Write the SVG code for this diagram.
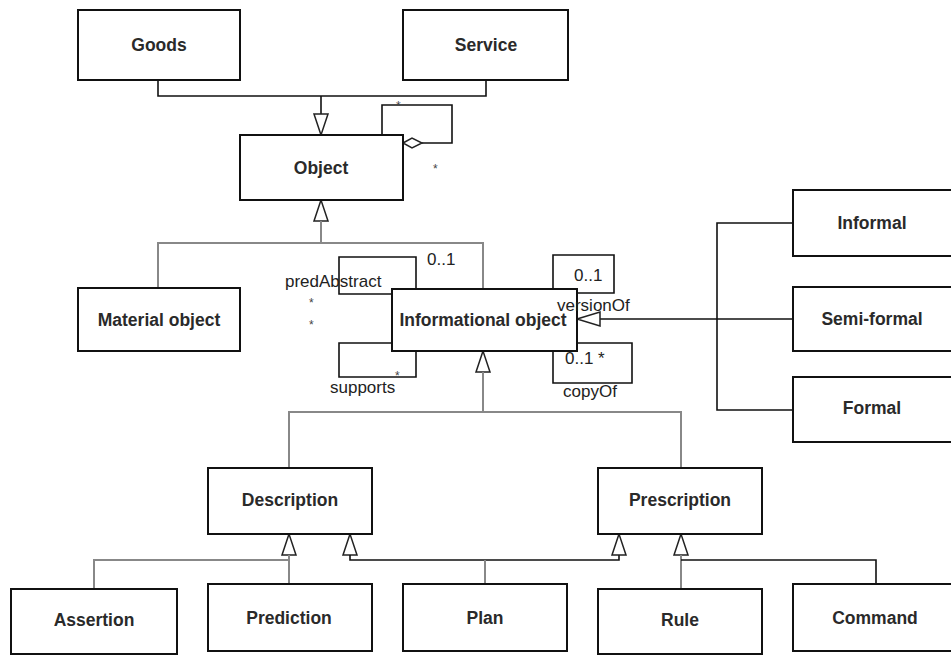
<svg xmlns="http://www.w3.org/2000/svg" width="951" height="656" viewBox="0 0 951 656">
  <style>
    .box { fill: #fff; stroke: #111; stroke-width: 2; }
    .lbl { font-family: "Liberation Sans", Arial, sans-serif; font-size: 17.5px; font-weight: bold; fill: #2a2a2a; text-anchor: middle; dominant-baseline: central; }
    .sm { font-family: "Liberation Sans", Arial, sans-serif; font-size: 17px; fill: #222; }
    .star { font-family: "Liberation Sans", Arial, sans-serif; font-size: 12px; fill: #444; }
    .ln { fill: none; stroke: #111; stroke-width: 1.6; }
    .lg { fill: none; stroke: #888; stroke-width: 2; }
    .tri { fill: #fff; stroke: #222; stroke-width: 1.5; }
  </style>
  <rect width="951" height="656" fill="#fff"/>

  <g id="connectors">
    <!-- Goods / Service to Object -->
    <polyline class="ln" points="158,80 158,96 486,96 486,80"/>
    <line class="ln" x1="321" y1="96" x2="321" y2="114"/>
    <polygon class="tri" points="321,135 314,114 328,114"/>
    <!-- Object self aggregation -->
    <polyline class="ln" points="382,135 382,105 452,105 452,143 422,143"/>
    <polygon class="tri" points="403,143 412,138 422,143 412,148"/>
    <!-- Material / Informational to Object -->
    <polygon class="tri" points="321,200 314,221 328,221"/>
    <line class="lg" x1="321" y1="221" x2="321" y2="243"/>
    <polyline class="lg" points="158,288 158,243 483,243 483,289"/>
    <!-- predAbstract loop -->
    <polyline class="ln" points="392,294 339,294 339,257 416,257 416,289"/>
    <!-- supports loop -->
    <polyline class="ln" points="392,343 339,343 339,377 416,377 416,351"/>
    <!-- versionOf loop -->
    <polyline class="ln" points="553,289 553,255 614,255 614,293 577,293"/>
    <!-- copyOf loop -->
    <polyline class="ln" points="577,343 632,343 632,383 553,383 553,351"/>
    <!-- Informal / Semi-formal / Formal to Informational object -->
    <polyline class="ln" points="793,223 717,223 717,410 793,410"/>
    <line class="ln" x1="600" y1="319" x2="793" y2="319"/>
    <polygon class="tri" points="577,319 600,312 600,326"/>
    <!-- Description / Prescription to Informational object -->
    <polygon class="tri" points="483,351 476,372 490,372"/>
    <line class="lg" x1="483" y1="372" x2="483" y2="412"/>
    <polyline class="lg" points="289,468 289,412 681,412 681,468"/>
    <!-- Assertion / Prediction to Description -->
    <polygon class="tri" points="289,534 282,555 296,555"/>
    <line class="lg" x1="289" y1="555" x2="289" y2="584"/>
    <polyline class="lg" points="94,589 94,560 289,560"/>
    <polygon class="tri" points="350,534 343,555 357,555"/>
    <!-- Plan to Description and Prescription -->
    <polyline class="ln" points="350,555 350,560 619,560 619,555"/>
    <line class="lg" x1="485" y1="560" x2="485" y2="584"/>
    <polygon class="tri" points="619,534 612,555 626,555"/>
    <!-- Rule / Command to Prescription -->
    <polygon class="tri" points="681,534 674,555 688,555"/>
    <line class="lg" x1="681" y1="555" x2="681" y2="589"/>
    <polyline class="ln" points="681,560 876,560 876,584"/>
  </g>

  <g id="goods"><rect class="box" x="78" y="10" width="162" height="70"/><text class="lbl" x="159" y="45">Goods</text></g>
  <g id="service"><rect class="box" x="403" y="10" width="165" height="70"/><text class="lbl" x="486" y="45">Service</text></g>
  <g id="object"><rect class="box" x="240" y="135" width="163" height="65"/><text class="lbl" x="321" y="168">Object</text></g>
  <g id="material-object"><rect class="box" x="78" y="288" width="162" height="63"/><text class="lbl" x="159" y="320">Material object</text></g>
  <g id="informational-object"><rect class="box" x="392" y="289" width="185" height="62"/><text class="lbl" x="483" y="320">Informational object</text></g>
  <g id="informal"><rect class="box" x="793" y="190" width="170" height="66"/><text class="lbl" x="872" y="223">Informal</text></g>
  <g id="semi-formal"><rect class="box" x="793" y="287" width="170" height="64"/><text class="lbl" x="872" y="319">Semi-formal</text></g>
  <g id="formal"><rect class="box" x="793" y="377" width="170" height="65"/><text class="lbl" x="872" y="408">Formal</text></g>
  <g id="description"><rect class="box" x="208" y="468" width="164" height="66"/><text class="lbl" x="290" y="500">Description</text></g>
  <g id="prescription"><rect class="box" x="598" y="468" width="164" height="66"/><text class="lbl" x="680" y="500">Prescription</text></g>
  <g id="assertion"><rect class="box" x="11" y="589" width="166" height="65"/><text class="lbl" x="94" y="620">Assertion</text></g>
  <g id="prediction"><rect class="box" x="208" y="584" width="164" height="67"/><text class="lbl" x="289" y="618">Prediction</text></g>
  <g id="plan"><rect class="box" x="403" y="584" width="164" height="67"/><text class="lbl" x="485" y="618">Plan</text></g>
  <g id="rule"><rect class="box" x="598" y="589" width="164" height="65"/><text class="lbl" x="680" y="620">Rule</text></g>
  <g id="command"><rect class="box" x="793" y="584" width="170" height="67"/><text class="lbl" x="875" y="618">Command</text></g>

  <g id="association-labels">
    <text class="star" x="396" y="110">*</text>
    <text class="star" x="433" y="173">*</text>
    <text class="sm" x="285" y="287">predAbstract</text>
    <text class="sm" x="427" y="265">0..1</text>
    <text class="star" x="309" y="307">*</text>
    <text class="star" x="309" y="329">*</text>
    <text class="sm" x="330" y="393">supports</text>
    <text class="star" x="395" y="380">*</text>
    <text class="sm" x="574" y="281">0..1</text>
    <text class="sm" x="557" y="311">versionOf</text>
    <text class="sm" x="565" y="364">0..1 *</text>
    <text class="sm" x="563" y="397">copyOf</text>
  </g>
</svg>
